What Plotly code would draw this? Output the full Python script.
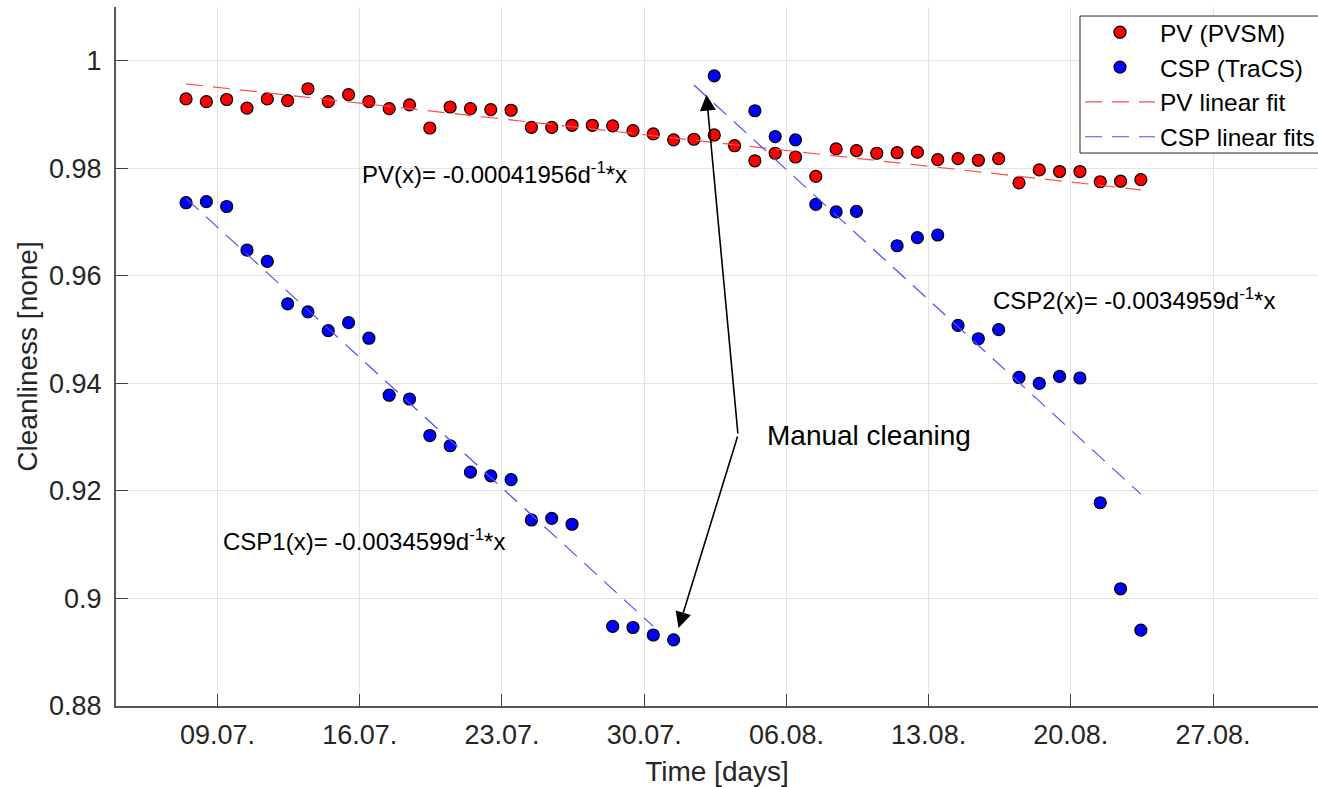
import plotly.graph_objects as go

# ---- data ----
dates = [
    "2018-07-07 10:45", "2018-07-08 10:45", "2018-07-09 10:45", "2018-07-10 10:45",
    "2018-07-11 10:45", "2018-07-12 10:45", "2018-07-13 10:45", "2018-07-14 10:45",
    "2018-07-15 10:45", "2018-07-16 10:45", "2018-07-17 10:45", "2018-07-18 10:45",
    "2018-07-19 10:45", "2018-07-20 10:45", "2018-07-21 10:45", "2018-07-22 10:45",
    "2018-07-23 10:45", "2018-07-24 10:45", "2018-07-25 10:45", "2018-07-26 10:45",
    "2018-07-27 10:45", "2018-07-28 10:45", "2018-07-29 10:45", "2018-07-30 10:45",
    "2018-07-31 10:45", "2018-08-01 10:45", "2018-08-02 10:45", "2018-08-03 10:45",
    "2018-08-04 10:45", "2018-08-05 10:45", "2018-08-06 10:45", "2018-08-07 10:45",
    "2018-08-08 10:45", "2018-08-09 10:45", "2018-08-10 10:45", "2018-08-11 10:45",
    "2018-08-12 10:45", "2018-08-13 10:45", "2018-08-14 10:45", "2018-08-15 10:45",
    "2018-08-16 10:45", "2018-08-17 10:45", "2018-08-18 10:45", "2018-08-19 10:45",
    "2018-08-20 10:45", "2018-08-21 10:45", "2018-08-22 10:45", "2018-08-23 10:45",
]

pv_values = [
    0.9929, 0.9924, 0.9928, 0.9912, 0.9929, 0.9926, 0.9948, 0.9924,
    0.9937, 0.9924, 0.9911, 0.9918, 0.9875, 0.9914, 0.9911, 0.9909,
    0.9908, 0.9876, 0.9876, 0.9880, 0.9880, 0.9879, 0.9870, 0.9864,
    0.9853, 0.9854, 0.9862, 0.9842, 0.9814, 0.9828, 0.9821, 0.9785,
    0.9836, 0.9833, 0.9828, 0.9829, 0.9830, 0.9816, 0.9818, 0.9815,
    0.9818, 0.9773, 0.9797, 0.9794, 0.9794, 0.9775, 0.9776, 0.9779,
]

csp_values = [
    0.9736, 0.9738, 0.9729, 0.9648, 0.9627, 0.9548, 0.9533, 0.9498,
    0.9513, 0.9484, 0.9378, 0.9371, 0.9303, 0.9284, 0.9235, 0.9228,
    0.9221, 0.9146, 0.9149, 0.9138, None, 0.8948, 0.8946, 0.8932,
    0.8923, None, 0.9972, None, 0.9907, 0.9859, 0.9853, 0.9733,
    0.9719, 0.9720, None, 0.9656, 0.9671, 0.9676, 0.9508, 0.9483,
    0.9500, 0.9411, 0.9400, 0.9413, 0.9410, 0.9178, 0.9018, 0.8941,
]

pv_fit_x = ["2018-07-07 10:45", "2018-08-23 10:45"]
pv_fit_y = [0.9957, 0.9760]

csp_fit_x = ["2018-07-07 10:45", "2018-07-30 10:45", None,
             "2018-08-01 10:45", "2018-08-23 10:45"]
csp_fit_y = [0.9744, 0.8948, None, 0.9955, 0.9194]

x_tick_vals = ["2018-07-09", "2018-07-16", "2018-07-23", "2018-07-30",
               "2018-08-06", "2018-08-13", "2018-08-20", "2018-08-27"]
x_tick_text = ["09.07.", "16.07.", "23.07.", "30.07.",
               "06.08.", "13.08.", "20.08.", "27.08."]
y_tick_vals = [0.88, 0.90, 0.92, 0.94, 0.96, 0.98, 1.00]
y_tick_text = ["0.88", "0.9", "0.92", "0.94", "0.96", "0.98", "1"]

FONT = "Liberation Sans, Arial, Helvetica, sans-serif"
TXT = "#262626"

fig = go.Figure()
fig.add_trace(go.Scatter(
    x=dates, y=pv_values, mode="markers", name="PV (PVSM)",
    marker=dict(color="#ff0000", size=12, line=dict(color="#000000", width=1.2)),
))
fig.add_trace(go.Scatter(
    x=dates, y=csp_values, mode="markers", name="CSP (TraCS)",
    marker=dict(color="#0000ff", size=12, line=dict(color="#000000", width=1.2)),
))
fig.add_trace(go.Scatter(
    x=pv_fit_x, y=pv_fit_y, mode="lines", name="PV linear fit",
    line=dict(color="#ff4d4d", width=1.2, dash="17px,10px"),
))
fig.add_trace(go.Scatter(
    x=csp_fit_x, y=csp_fit_y, mode="lines", name="CSP linear fits",
    connectgaps=False,
    line=dict(color="#4d4dff", width=1.2, dash="17px,10px"),
))

ann_font = dict(family=FONT, size=24, color="#000000")
annotations = [
    dict(x="2018-07-16 00:00", y=0.9792, xref="x", yref="y", showarrow=False,
         xanchor="left", yanchor="middle", font=ann_font,
         text="PV(x)= -0.00041956d<sup>-1</sup>*x"),
    dict(x="2018-07-09 04:00", y=0.9109, xref="x", yref="y", showarrow=False,
         xanchor="left", yanchor="middle", font=ann_font,
         text="CSP1(x)= -0.0034599d<sup>-1</sup>*x"),
    dict(x="2018-08-16 02:00", y=0.9557, xref="x", yref="y", showarrow=False,
         xanchor="left", yanchor="middle", font=ann_font,
         text="CSP2(x)= -0.0034959d<sup>-1</sup>*x"),
    dict(x="2018-08-04 22:20", y=0.9303, xref="x", yref="y", showarrow=False,
         xanchor="left", yanchor="middle",
         font=dict(family=FONT, size=28, color="#000000"),
         text="Manual cleaning"),
    dict(x="2018-08-02 01:30", y=0.9937, ax="2018-08-03 14:50", ay=0.9304,
         xref="x", yref="y", axref="x", ayref="y", text="", showarrow=True,
         arrowhead=2, arrowsize=2, arrowwidth=1.6, arrowcolor="#000000", standoff=0),
    dict(x="2018-07-31 16:35", y=0.8945, ax="2018-08-03 14:50", ay=0.9304,
         xref="x", yref="y", axref="x", ayref="y", text="", showarrow=True,
         arrowhead=2, arrowsize=2, arrowwidth=1.6, arrowcolor="#000000", standoff=0),
]

# legend frame (the legend itself runs past the right edge, as in the reference)
legend_frame = dict(type="rect", xref="paper", yref="paper",
                    x0=0.802, x1=1.02, y0=0.7911, y1=0.9871,
                    line=dict(color="#262626", width=1), fillcolor="white",
                    layer="above")

fig.update_layout(
    width=1318, height=787,
    margin=dict(l=116, r=0, t=7, b=81, autoexpand=False),
    paper_bgcolor="white", plot_bgcolor="white",
    font=dict(family=FONT, color=TXT),
    showlegend=True,
    legend=dict(
        x=0.802, y=0.996, xanchor="left", yanchor="top",
        bgcolor="rgba(0,0,0,0)", borderwidth=0,
        font=dict(family=FONT, size=24.5, color="#000000"),
        itemwidth=70, tracegroupgap=0,
    ),
    shapes=[legend_frame],
    annotations=annotations,
)

fig.update_xaxes(
    type="date",
    range=["2018-07-04 00:00", "2018-09-01 04:00"],
    tickvals=x_tick_vals, ticktext=x_tick_text,
    tickfont=dict(family=FONT, size=27, color=TXT),
    ticks="inside", ticklen=12, tickcolor="#404040", tickwidth=1,
    showgrid=True, gridcolor="#e3e3e3", gridwidth=1,
    showline=True, linecolor="#555555", linewidth=2,
    zeroline=False, ticklabelstandoff=4,
    title=dict(text="Time [days]", font=dict(family=FONT, size=28, color=TXT), standoff=12),
)
fig.update_yaxes(
    range=[0.88, 1.01],
    tickvals=y_tick_vals, ticktext=y_tick_text,
    tickfont=dict(family=FONT, size=27, color=TXT),
    ticks="inside", ticklen=12, tickcolor="#404040", tickwidth=1,
    showgrid=True, gridcolor="#e3e3e3", gridwidth=1,
    showline=True, linecolor="#555555", linewidth=2,
    zeroline=False, ticklabelstandoff=7,
    title=dict(text="Cleanliness [none]", font=dict(family=FONT, size=28, color=TXT), standoff=3),
)

fig.write_html("out.html", config={"displayModeBar": False},
               post_script="document.body.style.margin='0';")
